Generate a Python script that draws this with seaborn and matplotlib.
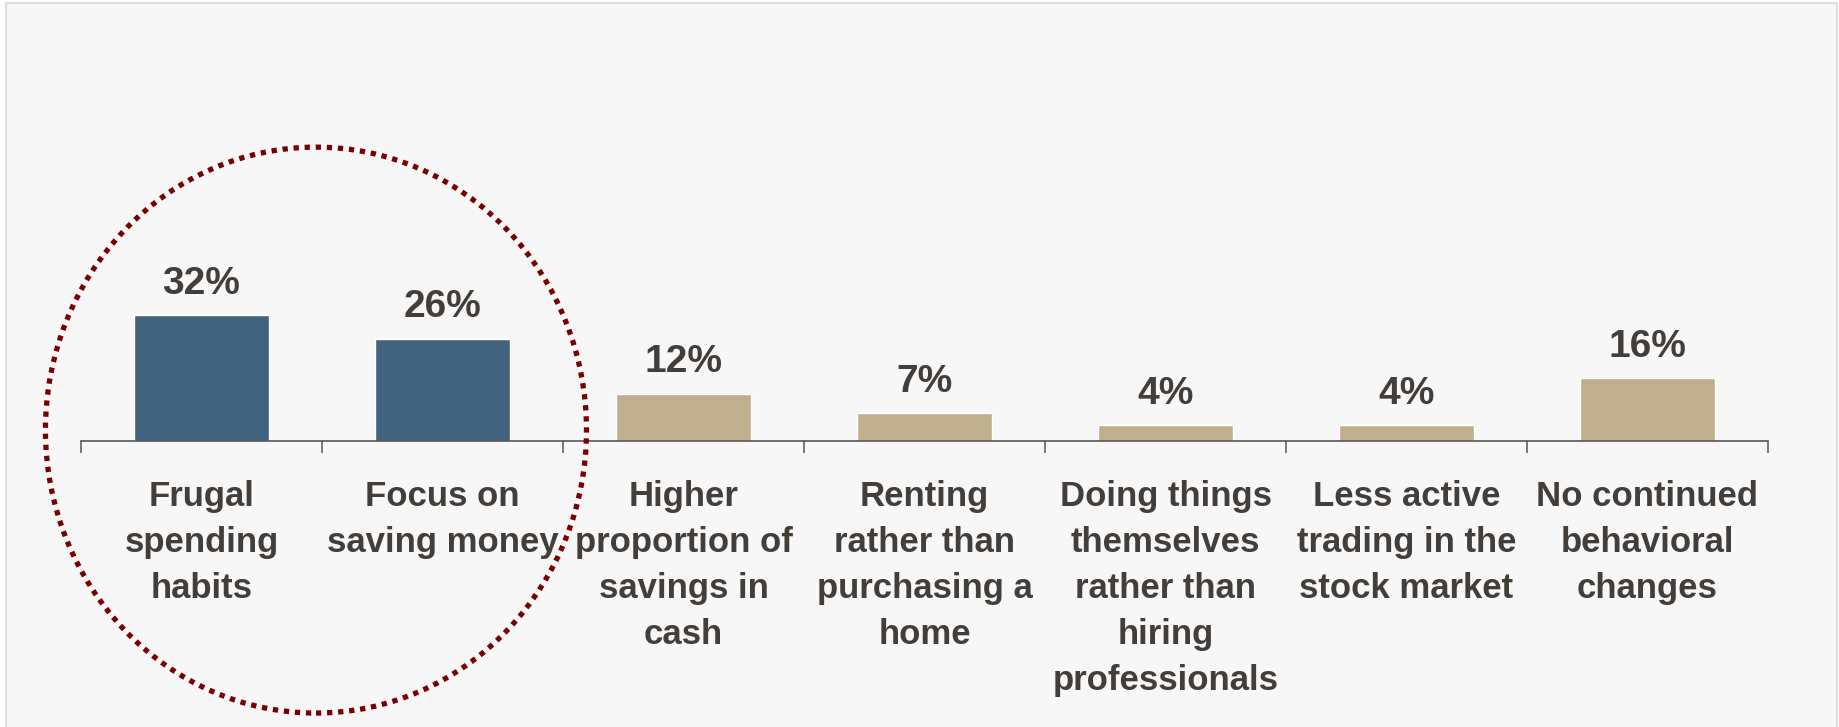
import matplotlib
matplotlib.use("Agg")
import matplotlib.pyplot as plt
from matplotlib.patches import Rectangle, Ellipse
import seaborn as sns
import pandas as pd

# Survey responses: lasting behavioural changes
categories = [
    "Frugal\nspending\nhabits",
    "Focus on\nsaving money",
    "Higher\nproportion of\nsavings in\ncash",
    "Renting\nrather than\npurchasing a\nhome",
    "Doing things\nthemselves\nrather than\nhiring\nprofessionals",
    "Less active\ntrading in the\nstock market",
    "No continued\nbehavioral\nchanges",
]
values = [32, 26, 12, 7, 4, 4, 16]
groups = ["highlight", "highlight", "other", "other", "other", "other", "other"]

palette = {"highlight": "#41637d", "other": "#bfaf8d"}
text_color = "#433e3a"
axis_color = "#5a5552"

sns.set_style("white")
plt.rcParams["font.family"] = ["Liberation Sans", "DejaVu Sans"]

df = pd.DataFrame({"category": categories, "value": values, "group": groups})

W, H = 1839, 727
fig = plt.figure(figsize=(W / 100, H / 100), dpi=100, facecolor="white")

# panel background with light frame
fig.add_artist(Rectangle((5.5 / W, -0.02), (1837 - 5.5) / W, (H - 3) / H + 0.02,
                         transform=fig.transFigure, facecolor="#f7f7f7",
                         edgecolor="#dedede", linewidth=1.5, zorder=-10))

ax_left, ax_right = 81 / W, 1768 / W
ax_bottom = (H - 440.7) / H
ax_height = 393 / H
ax = fig.add_axes([ax_left, ax_bottom, ax_right - ax_left, ax_height])
ax.set_facecolor("none")

sns.barplot(data=df, x="category", y="value", hue="group", palette=palette,
            width=0.56, dodge=False, legend=False, saturation=1, ax=ax)

for cont in ax.containers:
    ax.bar_label(cont, fmt="{:.0f}%", padding=9.5, fontsize=28,
                 fontweight="bold", color=text_color)

ax.set_xlim(-0.5, len(categories) - 0.5)
ax.set_ylim(0, 100)
ax.set_xlabel("")
ax.set_ylabel("")
ax.set_yticks([])

for side in ["left", "right", "top"]:
    ax.spines[side].set_visible(False)
ax.spines["bottom"].set_color(axis_color)
ax.spines["bottom"].set_linewidth(1.2)

# category boundaries as tick marks
ax.set_xticks([i - 0.5 for i in range(len(categories) + 1)], minor=True)
ax.tick_params(axis="x", which="minor", length=8.6, width=1.1, color=axis_color,
               direction="out", bottom=True)
ax.tick_params(axis="x", which="major", length=0, pad=28.5)
ax.set_xticks(range(len(categories)))
ax.set_xticklabels(categories, fontsize=25, fontweight="bold", color=text_color,
                   linespacing=1.5)

# dotted ring around the two highlighted categories
hl = [i for i, g in enumerate(groups) if g == "highlight"]
cx = (hl[0] + hl[-1]) / 2 - 0.025
ring = Ellipse((cx, 2.7), width=2.245, height=144, facecolor="none",
               edgecolor="#7a0000", linewidth=3.8, linestyle=(0, (1, 1.1)),
               clip_on=False, zorder=10)
ax.add_patch(ring)

fig.savefig("out.png", dpi=100, facecolor=fig.get_facecolor())
